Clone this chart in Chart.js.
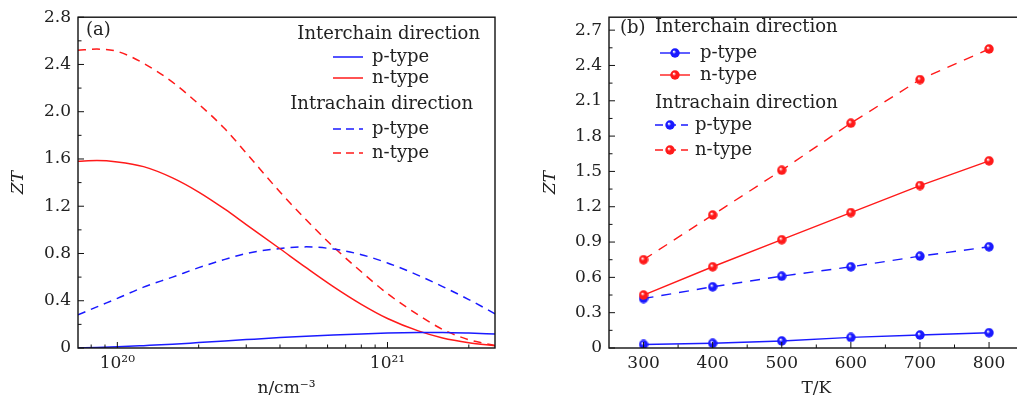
<!DOCTYPE html>
<html lang="en">
  <head>
    <meta charset="UTF-8" />
    <title>ZT charts</title>
  </head>
  <style>
   body{
    margin: 0;
    background: #fff;
    overflow: hidden;
    width: 1017px;
    height: 403px;
    position: relative;
   }
   #chartA{ position: absolute; left: 0; top: 0; }
   #chartB{ position: absolute; left: 510px; top: 0; }
  </style>
  <body>
    <canvas id="chartA" width="510" height="403"></canvas>
    <canvas id="chartB" width="520" height="403"></canvas>
  </body>
  <script src="https://cdn.jsdelivr.net/npm/chart.js@4.4.1/dist/chart.umd.min.js"></script>

  <script>
    // panel (a): ZT vs carrier concentration
    var nConc = [7.15e19, 8.4e19, 1e20, 1.25e20, 1.6e20, 2e20, 2.5e20, 3e20, 4e20, 5e20, 6.3e20, 8e20, 1e21, 1.3e21, 1.6e21, 2e21, 2.5e21];
    var interP_a = [0.0, 0.004, 0.01, 0.02, 0.032, 0.046, 0.06, 0.071, 0.088, 0.10, 0.11, 0.119, 0.126, 0.131, 0.132, 0.127, 0.118];
    var interN_a = [1.58, 1.587, 1.575, 1.535, 1.44, 1.32, 1.175, 1.045, 0.84, 0.68, 0.52, 0.37, 0.25, 0.145, 0.085, 0.045, 0.02];
    var intraP_a = [0.28, 0.348, 0.42, 0.515, 0.60, 0.68, 0.75, 0.80, 0.842, 0.856, 0.838, 0.79, 0.72, 0.615, 0.52, 0.41, 0.29];
    var intraN_a = [2.52, 2.53, 2.51, 2.41, 2.25, 2.065, 1.855, 1.65, 1.32, 1.085, 0.857, 0.645, 0.46, 0.28, 0.157, 0.07, 0.02];

    // panel (b): ZT vs temperature
    var temps = [300, 400, 500, 600, 700, 800];
    var interP_b = [0.03, 0.04, 0.06, 0.09, 0.11, 0.13];
    var interN_b = [0.45, 0.69, 0.92, 1.15, 1.38, 1.59];
    var intraP_b = [0.42, 0.52, 0.61, 0.69, 0.78, 0.86];
    var intraN_b = [0.75, 1.13, 1.51, 1.91, 2.28, 2.54];

    var seriesLabels = ['p-type', 'n-type', 'p-type', 'n-type'];
    var groupTitles = ['Interchain direction', 'Intrachain direction'];
    var panelTags = ['(a)', '(b)'];

    var xTicksA = [1e20, 1e21];
    var xMinorA = [8e19, 9e19, 2e20, 3e20, 4e20, 5e20, 6e20, 7e20, 8e20, 9e20, 2e21];
    var yTicksA = [0, 0.4, 0.8, 1.2, 1.6, 2.0, 2.4, 2.8];
    var yMinorA = [0.2, 0.6, 1.0, 1.4, 1.8, 2.2, 2.6];
    var xTicksB = [300, 400, 500, 600, 700, 800];
    var xMinorB = [350, 450, 550, 650, 750];
    var yTicksB = [0, 0.3, 0.6, 0.9, 1.2, 1.5, 1.8, 2.1, 2.4, 2.7];
    var yMinorB = [0.15, 0.45, 0.75, 1.05, 1.35, 1.65, 1.95, 2.25, 2.55];

    var BLUE = '#1a1aff';
    var RED = '#ff1a1a';
    var FAMILY = '"DejaVu Serif", serif';
    var FSIZE = 17;
    var LSIZE = 18;
    var TXT = '#222';

    function pairs(xs, ys){
      return xs.map(function(v, i){ return {x: v, y: ys[i]}; });
    }

    // little shaded ball used as marker
    function ball(color){
      var c = document.createElement('canvas');
      c.width = 10; c.height = 10;
      var g = c.getContext('2d');
      var grd = g.createRadialGradient(3.8, 3.6, 0.3, 5, 5, 5);
      grd.addColorStop(0, '#ffffff');
      grd.addColorStop(0.35, color);
      grd.addColorStop(1, color);
      g.fillStyle = grd;
      g.beginPath(); g.arc(5, 5, 4.7, 0, Math.PI * 2); g.fill();
      return c;
    }

    // frame + inward ticks
    var frameTicks = {
      id: 'frameTicks',
      afterDraw: function(chart, args, o){
        var ctx = chart.ctx, a = chart.chartArea;
        var sx = chart.scales.x, sy = chart.scales.y;
        ctx.save();
        ctx.strokeStyle = '#111';
        ctx.lineWidth = 1.4;
        ctx.strokeRect(a.left, a.top, a.right - a.left, a.bottom - a.top);
        ctx.lineWidth = 1;
        function seg(x1, y1, x2, y2){
          ctx.beginPath(); ctx.moveTo(x1, y1); ctx.lineTo(x2, y2); ctx.stroke();
        }
        o.xMajor.forEach(function(v){ var p = sx.getPixelForValue(v); seg(p, a.bottom, p, a.bottom - 6); });
        o.xMinor.forEach(function(v){ var p = sx.getPixelForValue(v); seg(p, a.bottom, p, a.bottom - 3.5); });
        o.yMajor.forEach(function(v){ var p = sy.getPixelForValue(v); seg(a.left, p, a.left + 6, p); });
        o.yMinor.forEach(function(v){ var p = sy.getPixelForValue(v); seg(a.left, p, a.left + 3.5, p); });
        ctx.restore();
      }
    };

    // grouped legend
    var groupLegend = {
      id: 'groupLegend',
      afterDatasetsDraw: function(chart, args, o){
        var ctx = chart.ctx;
        ctx.save();
        ctx.font = LSIZE + 'px ' + FAMILY;
        ctx.fillStyle = TXT;
        ctx.textBaseline = 'middle';
        o.items.forEach(function(it){
          if (it.text){
            ctx.textAlign = it.align || 'left';
            ctx.fillText(it.text, it.x, it.y);
            return;
          }
          var ds = chart.data.datasets[it.ds];
          ctx.strokeStyle = ds.borderColor;
          ctx.lineWidth = ds.borderWidth;
          ctx.setLineDash(it.dash || []);
          ctx.beginPath(); ctx.moveTo(it.x0, it.y); ctx.lineTo(it.x1, it.y); ctx.stroke();
          ctx.setLineDash([]);
          if (it.mx && ds.pointStyle){
            ctx.drawImage(ds.pointStyle, it.mx - 5, it.y - 5);
          }
          ctx.textAlign = 'left';
          ctx.fillText(ds.label, it.tx, it.y);
        });
        ctx.restore();
      }
    };

    function yScale(max, ticks, width, titlePad){
      return {
        min: 0,
        max: max,
        afterBuildTicks: function(s){ s.ticks = ticks.map(function(v){ return {value: v}; }); },
        afterFit: function(s){ s.width = width; },
        grid: {display: false, drawTicks: false},
        border: {display: false},
        ticks: {
          padding: 7,
          color: TXT,
          font: {family: FAMILY, size: FSIZE},
          callback: function(v){ return v === 0 ? '0' : Number(v).toFixed(1); }
        },
        title: {
          display: true, text: 'ZT', color: TXT,
          font: {family: FAMILY, size: FSIZE, style: 'italic'},
          padding: {top: titlePad, bottom: 0}
        }
      };
    }

    window.onload = function(){
      var lineW = 1.5;

      new Chart(document.getElementById('chartA'), {
        type: 'line',
        data: {
          datasets: [
            {label: seriesLabels[0], data: pairs(nConc, interP_a), borderColor: BLUE, borderWidth: lineW},
            {label: seriesLabels[1], data: pairs(nConc, interN_a), borderColor: RED, borderWidth: lineW},
            {label: seriesLabels[2], data: pairs(nConc, intraP_a), borderColor: BLUE, borderWidth: lineW, borderDash: [8, 6]},
            {label: seriesLabels[3], data: pairs(nConc, intraN_a), borderColor: RED, borderWidth: lineW, borderDash: [8, 6]}
          ]
        },
        options: {
          responsive: false,
          animation: false,
          layout: {padding: {top: 15, right: 15, left: 0, bottom: 0}},
          elements: {point: {radius: 0}, line: {cubicInterpolationMode: 'monotone', fill: false}},
          scales: {
            x: {
              type: 'logarithmic',
              min: 7.15e19,
              max: 2.5e21,
              afterBuildTicks: function(s){ s.ticks = xTicksA.map(function(v){ return {value: v}; }); },
              afterFit: function(s){ s.height = 55; },
              grid: {display: false, drawTicks: false},
              border: {display: false},
              ticks: {
                padding: 5,
                color: TXT,
                maxRotation: 0,
                font: {family: FAMILY, size: FSIZE},
                callback: function(v){ return v === 1e20 ? '10\u00B2\u2070' : '10\u00B2\u00B9'; }
              },
              title: {
                display: true, text: 'n/cm\u207B\u00B3', color: TXT,
                font: {family: FAMILY, size: FSIZE},
                padding: {top: 0, bottom: 4}
              }
            },
            y: yScale(2.8, yTicksA, 78, 8)
          },
          plugins: {
            legend: {display: false},
            tooltip: {enabled: false},
            frameTicks: {xMajor: xTicksA, xMinor: xMinorA, yMajor: yTicksA, yMinor: yMinorA},
            groupLegend: {items: [
              {text: panelTags[0], x: 86, y: 30},
              {text: groupTitles[0], x: 480, y: 34, align: 'right'},
              {ds: 0, x0: 333, x1: 363, tx: 372, y: 57},
              {ds: 1, x0: 333, x1: 363, tx: 372, y: 78},
              {text: groupTitles[1], x: 473, y: 104, align: 'right'},
              {ds: 2, x0: 333, x1: 363, tx: 372, y: 129, dash: [8, 5]},
              {ds: 3, x0: 333, x1: 363, tx: 372, y: 153, dash: [8, 5]}
            ]}
          }
        },
        plugins: [frameTicks, groupLegend]
      });

      var blueBall = ball(BLUE), redBall = ball(RED);
      function dsB(label, ys, color, img, dash){
        return {
          label: label,
          data: pairs(temps, ys),
          borderColor: color,
          backgroundColor: color,
          pointStyle: img,
          pointRadius: 5,
          borderWidth: 1.4,
          borderDash: dash || []
        };
      }

      new Chart(document.getElementById('chartB'), {
        type: 'line',
        data: {
          datasets: [
            dsB(seriesLabels[0], interP_b, BLUE, blueBall),
            dsB(seriesLabels[1], interN_b, RED, redBall),
            dsB(seriesLabels[2], intraP_b, BLUE, blueBall, [10, 8]),
            dsB(seriesLabels[3], intraN_b, RED, redBall, [10, 8])
          ]
        },
        options: {
          responsive: false,
          animation: false,
          layout: {padding: {top: 15, right: 5, left: 0, bottom: 0}},
          scales: {
            x: {
              type: 'linear',
              min: 250,
              max: 850,
              afterBuildTicks: function(s){ s.ticks = xTicksB.map(function(v){ return {value: v}; }); },
              afterFit: function(s){ s.height = 55; },
              grid: {display: false, drawTicks: false},
              border: {display: false},
              ticks: {
                padding: 5,
                color: TXT,
                maxRotation: 0,
                font: {family: FAMILY, size: FSIZE}
              },
              title: {
                display: true, text: 'T/K', color: TXT,
                font: {family: FAMILY, size: FSIZE},
                padding: {top: 0, bottom: 4}
              }
            },
            y: yScale(2.81, yTicksB, 99, 30)
          },
          plugins: {
            legend: {display: false},
            tooltip: {enabled: false},
            frameTicks: {xMajor: xTicksB, xMinor: xMinorB, yMajor: yTicksB, yMinor: yMinorB},
            groupLegend: {items: [
              {text: panelTags[1], x: 110, y: 28},
              {text: groupTitles[0], x: 145, y: 27},
              {ds: 0, x0: 150, x1: 180, mx: 165, tx: 190, y: 53},
              {ds: 1, x0: 150, x1: 180, mx: 165, tx: 190, y: 75},
              {text: groupTitles[1], x: 145, y: 103},
              {ds: 2, x0: 145, x1: 178, mx: 160, tx: 185, y: 125, dash: [8, 5]},
              {ds: 3, x0: 145, x1: 178, mx: 160, tx: 185, y: 150, dash: [8, 5]}
            ]}
          }
        },
        plugins: [frameTicks, groupLegend]
      });
    };
  </script>
</html>
